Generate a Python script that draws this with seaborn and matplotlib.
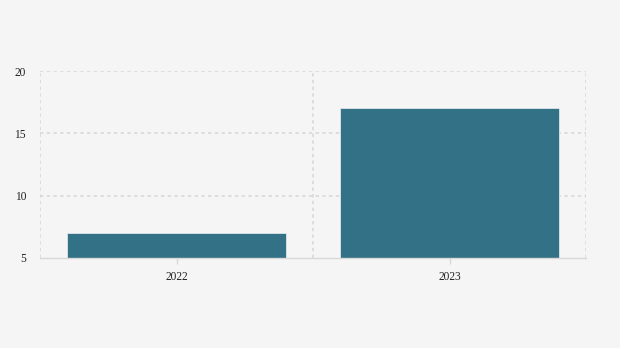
import matplotlib
matplotlib.use("Agg")
import matplotlib.pyplot as plt
import seaborn as sns
import pandas as pd

years = ["2022", "2023"]
values = [7, 17]
y_ticks = [5, 10, 15, 20]

sns.set_theme(style="white")
plt.rcParams['font.family'] = ['Liberation Serif', 'DejaVu Serif']

fig = plt.figure(figsize=(6.2, 3.48), dpi=100, facecolor="#f5f5f5")
ax = fig.add_axes([40/620, 1-258/348, (586-40)/620, (258-71)/348])
ax.set_facecolor("#f5f5f5")

df = pd.DataFrame({"year": years, "value": values})
sns.barplot(data=df, x="year", y="value", color="#337286", saturation=1,
            width=0.8, edgecolor="#dfe6e9", linewidth=0.6, ax=ax, zorder=3)

ax.set_ylim(5, 20)
ax.set_yticks(y_ticks)
ax.set_xlim(-0.5, 1.5)
ax.set_xlabel("")
ax.set_ylabel("")

for y in y_ticks[1:]:
    ax.axhline(y, color="#d6d6d6", linestyle=(0, (2.2, 2.2)), linewidth=1.1, zorder=1)
for x in [-0.5, 0.5, 1.5]:
    ax.axvline(x, color="#d6d6d6", linestyle=(0, (2.2, 2.2)), linewidth=1.1, zorder=1)

for s in ["top", "right", "left"]:
    ax.spines[s].set_visible(False)
ax.spines["bottom"].set_color("#d8d8d8")
ax.spines["bottom"].set_linewidth(1)
ax.spines["bottom"].set_zorder(4)

ax.tick_params(axis="y", length=0, pad=10, labelsize=8.3, labelcolor="#222222")
ax.tick_params(axis="x", length=4, width=1, color="#d8d8d8", pad=5.5, labelsize=8.3, labelcolor="#222222")
ax.tick_params(axis="x", bottom=True)

fig.savefig("out.png", dpi=100, facecolor=fig.get_facecolor())
